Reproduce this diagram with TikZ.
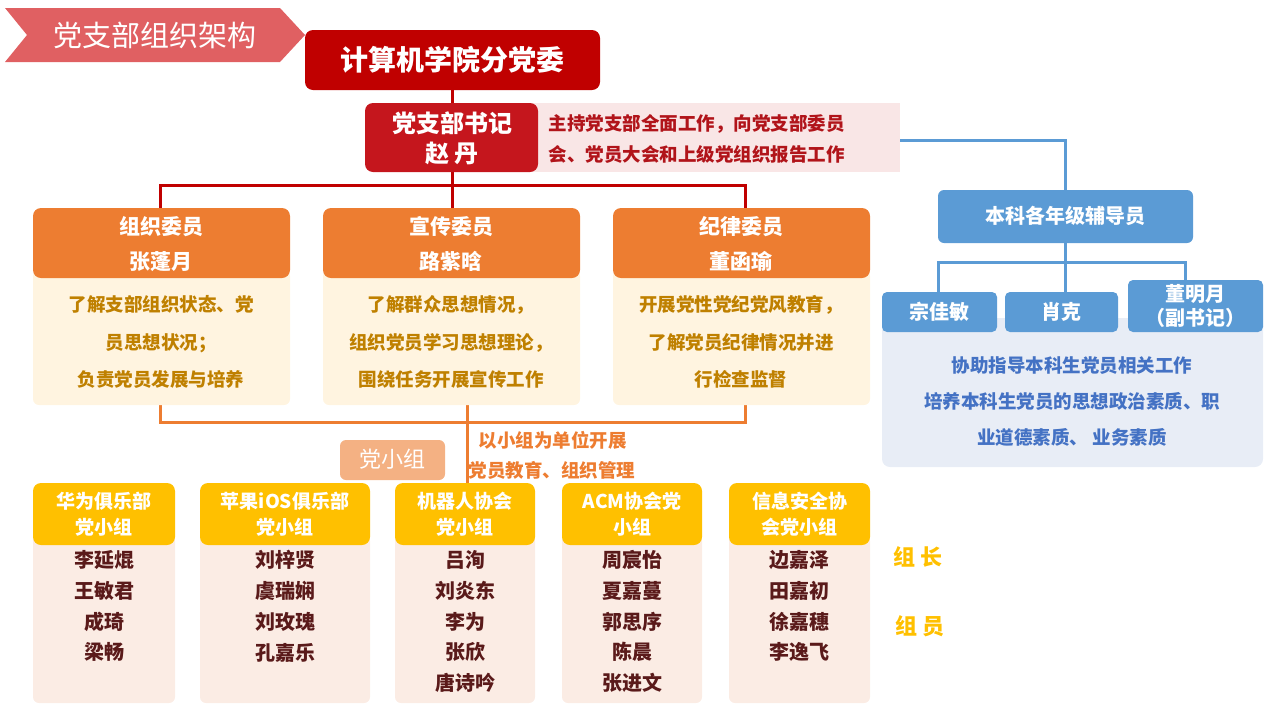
\documentclass[tikz,border=0pt]{standalone}
\usepackage{fontspec}
\setmainfont{Noto Sans CJK SC}
\definecolor{dred}{HTML}{C00000}
\definecolor{sred}{HTML}{C5161D}
\definecolor{pinkbg}{HTML}{F9E6E6}
\definecolor{ban}{HTML}{E06062}
\definecolor{org}{HTML}{ED7D31}
\definecolor{cream}{HTML}{FFF4E0}
\definecolor{gold}{HTML}{BF8000}
\definecolor{lorg}{HTML}{F4B183}
\definecolor{ylw}{HTML}{FFC000}
\definecolor{peach}{HTML}{FBECE4}
\definecolor{brn}{HTML}{5A1A1A}
\definecolor{blu}{HTML}{5B9BD5}
\definecolor{lblu}{HTML}{E8EDF6}
\definecolor{tblu}{HTML}{4472C4}
\tikzset{
  wt/.style={text=white,font=\fontsize{20}{24}\selectfont\bfseries},
}
\begin{document}
\begin{tikzpicture}[x=1pt,y=-1pt]
\useasboundingbox (0,0) rectangle (1272,710);
% banner
\fill[ban] (5,8) -- (280,8) -- (305,35) -- (280,62) -- (5,62) -- (27,35) -- cycle;
\node[text=white,font=\fontsize{29}{32}\selectfont] (ttl) at (155,35) {党支部组织架构};
% lines red
\coordinate (hl) at (160,185); \coordinate (hr) at (745,185);
\draw[dred,line width=3pt] (452,90) -- (452,208);
\draw[dred,line width=3pt] (160,208) -- (hl) -- (hr) -- (745,208);
% orange lines
\draw[org,line width=3pt] (160,405) -- (160,422) -- (745,422) -- (745,405);
\draw[org,line width=3pt] (467,405) -- (467,483);
% blue lines
\draw[blu,line width=3pt] (900,140) -- (1065,140) -- (1065,190);
\draw[blu,line width=3pt] (1065,243) -- (1065,262);
\draw[blu,line width=3pt] (938,292) -- (938,262) -- (1185,262) -- (1185,282);
\draw[blu,line width=3pt] (1065,262) -- (1065,292);
% root
\fill[dred,rounded corners=8pt] (305,30) rectangle (600,90);
\node[text=white,font=\fontsize{28}{32}\selectfont\bfseries] (root) at (452,60) {计算机学院分党委};
% secretary
\fill[pinkbg] (530,103) rectangle (900,172);
\node[text=sred!90!black,align=left,anchor=west,font=\fontsize{18.5}{31}\selectfont\bfseries] (desc) at (545,139) {主持党支部全面工作，向党支部委员\\会、党员大会和上级党组织报告工作};
\fill[sred,rounded corners=8pt] (365,103) rectangle (538,172);
\node[text=white,align=center,font=\fontsize{24}{30}\selectfont\bfseries] (sec) at (452,138) {党支部书记\\赵 丹};
% committee members
\foreach \x/\h/\b in {33/{组织委员\\张蓬月}/{了解支部组织状态、党\\员思想状况；\\负责党员发展与培养},323/{宣传委员\\路紫晗}/{了解群众思想情况，\\组织党员学习思想理论，\\围绕任务开展宣传工作},613/{纪律委员\\董函瑜}/{开展党性党纪党风教育，\\了解党员纪律情况并进\\行检查监督}}{
  \fill[cream,rounded corners=6pt] (\x,270) rectangle ++(257,135);
  \fill[org,rounded corners=8pt] (\x,208) rectangle ++(257,70);
  \node[text=white,align=center,font=\fontsize{21}{35}\selectfont\bfseries] at (\x+128,244) {\h};
  \node[text=gold,align=center,font=\fontsize{18.5}{37.5}\selectfont\bfseries] at (\x+128,342) {\b};
}
% 党小组 label
\fill[lorg,rounded corners=6pt] (340,440) rectangle (445,480);
\node[text=white,font=\fontsize{22}{24}\selectfont] (dxz) at (392,459) {党小组};
\node[text=org,align=left,anchor=west,font=\fontsize{18.5}{30}\selectfont\bfseries] (mgmt) at (465,455) {\hspace{10pt}以小组为单位开展\\党员教育、组织管理};
% groups
\foreach \xa/\xb/\h/\n in {33/175/{华为俱乐部\\党小组}/{李延焜\\王敏君\\成琦\\梁畅},200/370/{苹果iOS俱乐部\\党小组}/{刘梓贤\\虞瑞娴\\刘玫瑰\\孔嘉乐},395/535/{机器人协会\\党小组}/{吕洵\\刘炎东\\李为\\张欣\\唐诗吟},562/702/{ACM协会党\\小组}/{周宸怡\\夏嘉蔓\\郭思序\\陈晨\\张进文},729/870/{信息安全协\\会党小组}/{边嘉泽\\田嘉初\\徐嘉穗\\李逸飞}}{
  \fill[peach,rounded corners=6pt] (\xa,535) rectangle (\xb,703);
  \fill[ylw,rounded corners=8pt] (\xa,483) rectangle (\xb,545);
  \node[text=white,align=center,font=\fontsize{19}{26}\selectfont\bfseries] at ({(\xa+\xb)/2},514) {\h};
  \node[text=brn,align=center,anchor=north,font=\fontsize{20}{30.7}\selectfont\bfseries] at ({(\xa+\xb)/2},547) {\n};
}
\node[text=ylw,font=\fontsize{22}{24}\selectfont\bfseries] (zz) at (918,557) {组 长};
\node[text=ylw,font=\fontsize{22}{24}\selectfont\bfseries] (zy) at (920,626) {组 员};
% blue part
\fill[blu,rounded corners=6pt] (938,190) rectangle (1193,243);
\node[wt] (fdy) at (1065,216) {本科各年级辅导员};
\fill[lblu,rounded corners=8pt] (882,318) rectangle (1263,467);
\fill[blu,rounded corners=5pt] (882,292) rectangle (997,332);
\fill[blu,rounded corners=5pt] (1005,292) rectangle (1118,332);
\fill[blu,rounded corners=5pt] (1128,280) rectangle (1263,332);
\node[wt] (a) at (939,312) {宗佳敏};
\node[wt] (b) at (1061,312) {肖克};
\node[wt,align=center] (c) at (1195,306) {董明月\\（副书记）};
\node[text=tblu,align=center,font=\fontsize{18.5}{36}\selectfont\bfseries] (bd) at (1072,402) {协助指导本科生党员相关工作\\培养本科生党员的思想政治素质、职\\业道德素质、 业务素质};
\end{tikzpicture}
\end{document}
